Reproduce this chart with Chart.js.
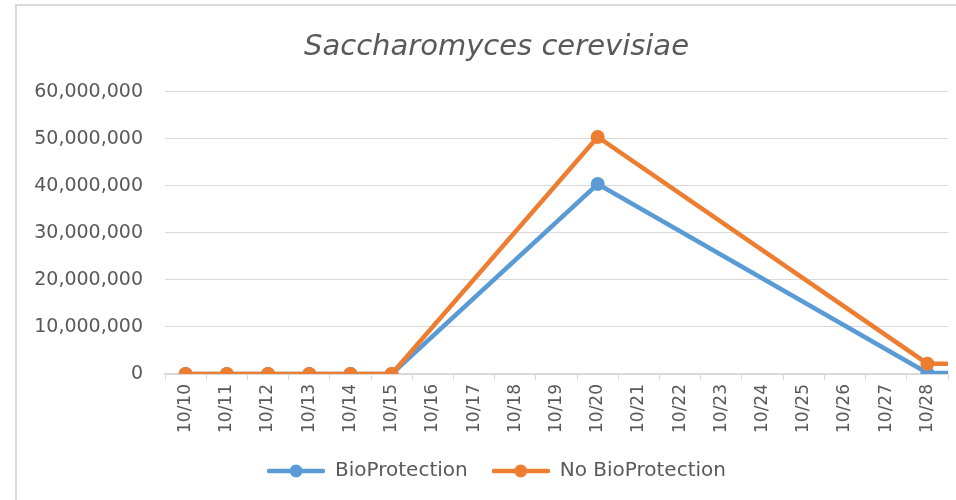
<!DOCTYPE html>
<html lang="en">
<head>
  <meta charset="UTF-8">
  <title>Saccharomyces cerevisiae</title>
  <script src="https://cdn.jsdelivr.net/npm/chart.js"></script>
  <style>
    html, body { margin: 0; padding: 0; overflow: hidden; background: #fff; width: 956px; height: 500px; }
    .frame { position: absolute; left: 15px; top: 4px; width: 963px; height: 510px; border: 2px solid #d9d9d9; box-sizing: border-box; }
    .frame canvas { display: block; }
  </style>
</head>
<body>
  <div class="frame">
    <canvas id="yeastChart" width="959" height="506"></canvas>
  </div>

  <script>
    // dates on the x axis (10/29 sits just past the right edge, only its line stub shows)
    const dates = ['10/10', '10/11', '10/12', '10/13', '10/14', '10/15', '10/16', '10/17', '10/18', '10/19',
                   '10/20', '10/21', '10/22', '10/23', '10/24', '10/25', '10/26', '10/27', '10/28', '10/29'];
    const shownDates = dates.slice(0, 19);
    const bioProtection   = [0, 0, 0, 0, 0, 0, null, null, null, null, 40400000, null, null, null, null, null, null, null, 200000, 200000];
    const noBioProtection = [0, 0, 0, 0, 0, 0, null, null, null, null, 50400000, null, null, null, null, null, null, null, 2200000, 2200000];
    const yTicks = [0, 10000000, 20000000, 30000000, 40000000, 50000000, 60000000];

    const blue = '#5b9bd5';
    const orange = '#ed7d31';
    const grey = '#595959';
    const font = "'DejaVu Sans', sans-serif";

    // legend marker: short line with a dot in the middle, like Excel
    function legendMarker(color) {
      const c = document.createElement('canvas');
      c.width = 58; c.height = 16;
      const g = c.getContext('2d');
      g.strokeStyle = color;
      g.lineWidth = 4.5;
      g.lineCap = 'round';
      g.beginPath(); g.moveTo(2, 8); g.lineTo(56, 8); g.stroke();
      g.fillStyle = color;
      g.beginPath(); g.arc(29, 8, 6.5, 0, Math.PI * 2); g.fill();
      return c;
    }

    const toPoints = arr => arr.map((v, i) => ({ x: i, y: v }));

    const ctx = document.getElementById('yeastChart');
    new Chart(ctx, {
      type: 'line',
      data: {
        labels: shownDates,
        datasets: [
          { label: 'BioProtection', data: toPoints(bioProtection), xAxisID: 'xv', order: 1,
            borderColor: blue, backgroundColor: blue, pointBorderWidth: 0,
            borderWidth: 4.5, pointRadius: 7, pointHoverRadius: 7, spanGaps: true, marker: legendMarker(blue) },
          { label: 'No BioProtection', data: toPoints(noBioProtection), xAxisID: 'xv', order: 0,
            borderColor: orange, backgroundColor: orange, pointBorderWidth: 0,
            borderWidth: 4.5, pointRadius: 7, pointHoverRadius: 7, spanGaps: true, marker: legendMarker(orange) }
        ]
      },
      options: {
        responsive: false,
        animation: false,
        layout: { padding: { top: 20, right: 28, left: 28, bottom: 21 } },
        plugins: {
          title: {
            display: true,
            text: 'Saccharomyces cerevisiae',
            color: grey,
            font: { family: font, size: 29, style: 'italic', weight: 'normal' },
            padding: { top: 4, bottom: 27 }
          },
          legend: {
            position: 'bottom',
            labels: {
              color: grey,
              font: { family: font, size: 20 },
              usePointStyle: true,
              pointStyleWidth: 58,
              boxHeight: 16,
              padding: 24,
              generateLabels: chart => chart.data.datasets.map((ds, i) => ({
                text: ds.label,
                pointStyle: ds.marker,
                fontColor: grey,
                datasetIndex: i,
                hidden: false,
                lineWidth: 0
              }))
            }
          },
          tooltip: { enabled: false }
        },
        scales: {
          x: {
            type: 'category',
            offset: true,
            grid: { offset: true, drawOnChartArea: false, drawTicks: true, tickLength: 6, color: '#d9d9d9' },
            border: { color: '#d9d9d9', width: 1.5 },
            ticks: {
              color: grey,
              font: { family: font, size: 17 },
              minRotation: 90, maxRotation: 90, autoSkip: false, padding: 4
            }
          },
          xv: {
            type: 'linear',
            display: false,
            min: -0.5,
            max: shownDates.length - 0.5
          },
          y: {
            min: 0,
            max: 60000000,
            afterBuildTicks: axis => { axis.ticks = yTicks.map(v => ({ value: v })); },
            afterFit: axis => {
              axis.width = 120;
              // labels are wider than the fixed axis box, let them spill left
              axis._computeLabelArea = () => undefined;
            },
            grid: { color: '#d9d9d9', lineWidth: 1, drawTicks: false },
            border: { display: false },
            ticks: {
              color: grey,
              padding: 22,
              font: { family: font, size: 19 },
              callback: v => v.toLocaleString('en-US')
            }
          }
        }
      }
    });
  </script>
</body>
</html>
